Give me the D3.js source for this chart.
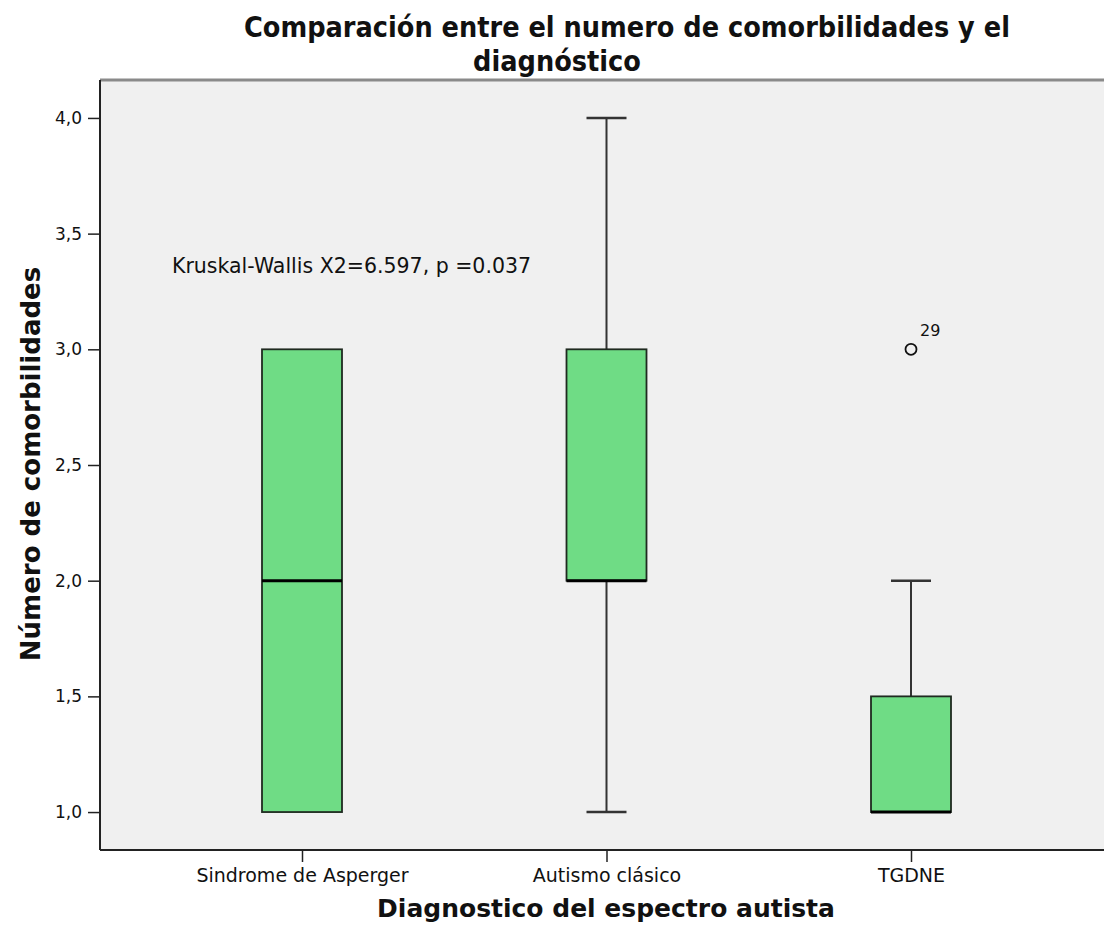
<!DOCTYPE html>
<html>
<head>
<meta charset="utf-8">
<script src="https://cdn.jsdelivr.net/npm/d3@7"></script>
<style>
  body { margin: 0; background: #fff; }
  text { font-family: "DejaVu Sans", sans-serif; fill: #111; }
  .cond { font-family: "DejaVu Sans Condensed", "DejaVu Sans", sans-serif; font-stretch: condensed; }
</style>
</head>
<body>
<div id="chart"></div>
<script>
// datos (cuartiles por diagnóstico)
const categories = ["Sindrome de Asperger", "Autismo clásico", "TGDNE"];
const mins    = [1, 1, 1];
const q1s     = [1, 2, 1];
const medians = [2, 2, 1];
const q3s     = [3, 3, 1.5];
const maxs    = [3, 4, 2];
const outliers = [{ cat: "TGDNE", value: 3, label: "29" }];
const yTicks = [1, 1.5, 2, 2.5, 3, 3.5, 4];
const titleLines = ["Comparación entre el numero de comorbilidades y el", "diagnóstico"];

const width = 1104, height = 934;
const plot = { left: 100, top: 80, right: 1104, bottom: 850 };

const svg = d3.select("#chart").append("svg")
    .attr("width", width)
    .attr("height", height);

const x = d3.scalePoint()
    .domain(categories)
    .range([302, 911]);

const y = d3.scaleLinear()
    .domain([0.836, 4.164])
    .range([plot.bottom, plot.top]);

// fondo del área de trazado
svg.append("rect")
    .attr("x", plot.left)
    .attr("y", plot.top)
    .attr("width", plot.right - plot.left)
    .attr("height", plot.bottom - plot.top)
    .attr("fill", "#f0f0f0");

// borde superior gris
svg.append("line")
    .attr("x1", plot.left).attr("x2", plot.right)
    .attr("y1", plot.top).attr("y2", plot.top)
    .attr("stroke", "#8a8a8a")
    .attr("stroke-width", 3);

// ejes
const yAxis = svg.append("g")
    .attr("transform", `translate(${plot.left},0)`)
    .call(d3.axisLeft(y).tickValues(yTicks).tickSize(12).tickPadding(6)
        .tickFormat(d => d3.format(".1f")(d).replace(".", ",")));
yAxis.select(".domain").remove();
yAxis.selectAll(".tick line").attr("stroke", "#222").attr("stroke-width", 1.5);
yAxis.selectAll(".tick text").style("font-size", "17px").attr("fill", "#222");

const xAxis = svg.append("g")
    .attr("transform", `translate(0,${plot.bottom})`)
    .call(d3.axisBottom(x).tickSize(12).tickPadding(7));
xAxis.select(".domain").remove();
xAxis.selectAll(".tick line").attr("stroke", "#222").attr("stroke-width", 1.5);
xAxis.selectAll(".tick text").style("font-size", "19px").attr("fill", "#222");

svg.append("line")
    .attr("x1", plot.left).attr("x2", plot.left)
    .attr("y1", plot.top).attr("y2", plot.bottom)
    .attr("stroke", "#222").attr("stroke-width", 2);
svg.append("line")
    .attr("x1", plot.left).attr("x2", plot.right)
    .attr("y1", plot.bottom).attr("y2", plot.bottom)
    .attr("stroke", "#222").attr("stroke-width", 2);

// cajas
const boxW = 80, capW = 40;
const stats = categories.map((c, i) => ({
    cat: c, min: mins[i], q1: q1s[i], med: medians[i], q3: q3s[i], max: maxs[i]
}));

const g = svg.append("g").selectAll("g.box")
    .data(stats)
    .enter()
    .append("g")
    .attr("class", "box");

// bigotes
g.filter(d => d.max > d.q3).append("line")
    .attr("x1", d => x(d.cat)).attr("x2", d => x(d.cat))
    .attr("y1", d => y(d.q3)).attr("y2", d => y(d.max))
    .attr("stroke", "#333").attr("stroke-width", 2);
g.filter(d => d.max > d.q3).append("line")
    .attr("x1", d => x(d.cat) - capW / 2).attr("x2", d => x(d.cat) + capW / 2)
    .attr("y1", d => y(d.max)).attr("y2", d => y(d.max))
    .attr("stroke", "#333").attr("stroke-width", 2.5);
g.filter(d => d.min < d.q1).append("line")
    .attr("x1", d => x(d.cat)).attr("x2", d => x(d.cat))
    .attr("y1", d => y(d.q1)).attr("y2", d => y(d.min))
    .attr("stroke", "#333").attr("stroke-width", 2);
g.filter(d => d.min < d.q1).append("line")
    .attr("x1", d => x(d.cat) - capW / 2).attr("x2", d => x(d.cat) + capW / 2)
    .attr("y1", d => y(d.min)).attr("y2", d => y(d.min))
    .attr("stroke", "#333").attr("stroke-width", 2.5);

g.append("rect")
    .attr("x", d => x(d.cat) - boxW / 2)
    .attr("y", d => y(d.q3))
    .attr("width", boxW)
    .attr("height", d => y(d.q1) - y(d.q3))
    .attr("fill", "#6fdc85")
    .attr("stroke", "#1f2a20")
    .attr("stroke-width", 1.8);

g.append("line")
    .attr("x1", d => x(d.cat) - boxW / 2).attr("x2", d => x(d.cat) + boxW / 2)
    .attr("y1", d => y(d.med)).attr("y2", d => y(d.med))
    .attr("stroke", "#000").attr("stroke-width", 3);

// atípicos
svg.selectAll("circle.outlier")
    .data(outliers)
    .enter()
    .append("circle")
    .attr("class", "outlier")
    .attr("cx", d => x(d.cat))
    .attr("cy", d => y(d.value))
    .attr("r", 5.5)
    .attr("fill", "none")
    .attr("stroke", "#111")
    .attr("stroke-width", 1.8);
svg.selectAll("text.outlier-label")
    .data(outliers)
    .enter()
    .append("text")
    .attr("class", "outlier-label")
    .attr("x", d => x(d.cat) + 9)
    .attr("y", d => y(d.value) - 13)
    .style("font-size", "16px")
    .text(d => d.label);

// anotación
svg.append("text")
    .attr("x", 172)
    .attr("y", 273)
    .style("font-size", "20.5px")
    .attr("fill", "#222")
    .text("Kruskal-Wallis X2=6.597, p =0.037");

// título en dos líneas
svg.append("text")
    .attr("class", "cond")
    .attr("x", 627).attr("y", 37)
    .attr("text-anchor", "middle")
    .style("font-size", "28.5px").style("font-weight", "bold")
    .text(titleLines[0]);
svg.append("text")
    .attr("class", "cond")
    .attr("x", 557).attr("y", 71)
    .attr("text-anchor", "middle")
    .style("font-size", "28.5px").style("font-weight", "bold")
    .text(titleLines[1]);

svg.append("text")
    .attr("transform", `translate(40,${(plot.top + plot.bottom) / 2 - 1}) rotate(-90)`)
    .attr("text-anchor", "middle")
    .style("font-size", "26px").style("font-weight", "bold")
    .text("Número de comorbilidades");

svg.append("text")
    .attr("x", 606).attr("y", 917)
    .attr("text-anchor", "middle")
    .style("font-size", "25px").style("font-weight", "bold")
    .text("Diagnostico del espectro autista");
</script>
</body>
</html>
